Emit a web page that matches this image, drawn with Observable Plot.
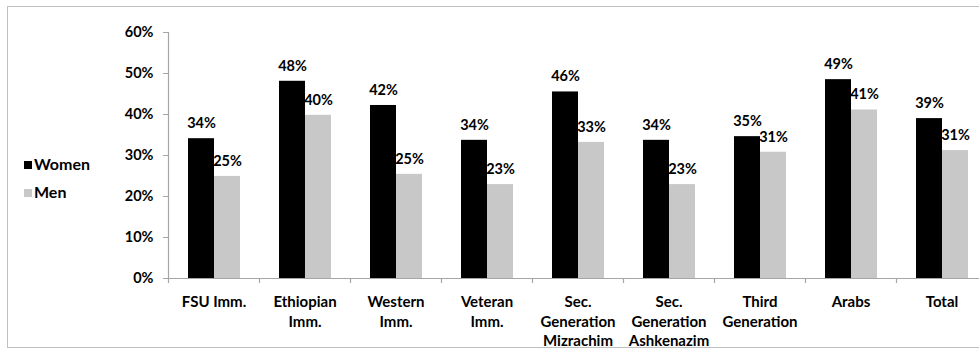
<!DOCTYPE html>
<html>
<head>
<meta charset="utf-8">
<script src="https://cdn.jsdelivr.net/npm/d3@7"></script>
<script src="https://cdn.jsdelivr.net/npm/@observablehq/plot@0.6"></script>
<style>
  html, body { margin: 0; padding: 0; background: #fff; overflow: hidden; }
  #wrap { position: relative; width: 979px; height: 350px; overflow: hidden; font-family: Lato, "Open Sans", sans-serif; font-weight: bold; }
  #border { position: absolute; left: 7px; top: 6px; width: 1000px; height: 342px; border: 1.5px solid #bfbfbf; box-sizing: border-box; }
  #chart { position: absolute; left: 0; top: 0; }
  .leg { position: absolute; left: 24px; font-size: 16px; line-height: 16px; color: #000; }
  .leg span.sw { display: inline-block; width: 8px; height: 8px; margin-right: 2px; vertical-align: 1px; }
</style>
</head>
<body>
<div id="wrap">
  <div id="border"></div>
  <div id="chart"></div>
  <div class="leg" style="top:156px"><span class="sw" style="background:#000"></span>Women</div>
  <div class="leg" style="top:184px"><span class="sw" style="background:#c8c8c8"></span>Men</div>
</div>
<script>
const categories = ["FSU Imm.", "Ethiopian\nImm.", "Western\nImm.", "Veteran\nImm.", "Sec.\nGeneration\nMizrachim", "Sec.\nGeneration\nAshkenazim", "Third\nGeneration", "Arabs", "Total"];
const women = [34.1, 48.1, 42.2, 33.7, 45.5, 33.7, 34.6, 48.5, 39.0];
const men = [24.9, 39.8, 25.4, 22.9, 33.2, 22.9, 30.8, 41.1, 31.2];
const yTicks = [0, 10, 20, 30, 40, 50, 60];

const W = categories.map((c, i) => ({category: c, value: women[i]}));
const M = categories.map((c, i) => ({category: c, value: men[i]}));
const axisColor = "#a6a6a6";

const chart = Plot.plot({
  width: 979,
  height: 350,
  marginLeft: 168,
  marginRight: -8,
  marginTop: 32,
  marginBottom: 72,
  style: {fontFamily: "Lato, 'Open Sans', sans-serif", fontWeight: "bold", fontSize: "14.5px", color: "#000", background: "transparent"},
  x: {domain: categories, padding: 0, axis: null},
  y: {domain: [0, 60], axis: null},
  marks: [
    Plot.barY(W, {x: "category", y: "value", fill: "#000", insetLeft: 20, insetRight: 45}),
    Plot.barY(M, {x: "category", y: "value", fill: "#c8c8c8", insetLeft: 46, insetRight: 19}),
    Plot.text(W, {x: "category", y: "value", text: d => Math.round(d.value) + "%", dx: -12.5, dy: -10.5, lineAnchor: "bottom", fontSize: 14.5}),
    Plot.text(M, {x: "category", y: "value", text: d => Math.round(d.value) + "%", dx: 13.5, dy: -10.5, lineAnchor: "bottom", fontSize: 14.5}),
    Plot.ruleY([0], {stroke: axisColor, strokeWidth: 1.2}),
    Plot.ruleX([categories[0]], {dx: -45.5, stroke: axisColor, strokeWidth: 1.2}),
    Plot.ruleX(categories, {x: d => d, y1: 0, y2: 0, insetBottom: -5, dx: -45.5, stroke: axisColor, strokeWidth: 1.2}),
    Plot.axisY({ticks: yTicks, tickFormat: d => d + "%", tickSize: 5, tickPadding: 10, stroke: axisColor, fontSize: 14.5, label: null}),
    Plot.text(categories, {x: d => d, text: d => d, frameAnchor: "bottom", lineAnchor: "top", dy: 15, lineHeight: 1.3, fontSize: 15})
  ]
});
document.getElementById("chart").appendChild(chart);
</script>
</body>
</html>
